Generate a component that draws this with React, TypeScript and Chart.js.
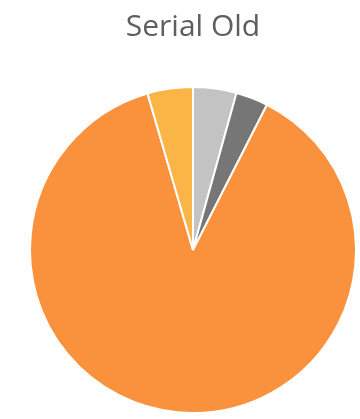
import React, { useEffect, useRef } from "react";
import { Chart, registerables } from "chart.js";

Chart.register(...registerables);

const titleText = "Serial Old";
const categories = ["Light gray", "Dark gray", "Orange", "Yellow"];
const shares = [4.3, 3.2, 88.0, 4.5];
const colors = ["#C3C3C3", "#767676", "#FA913C", "#FBB546"];

export default function App() {
  const ref = useRef<HTMLCanvasElement | null>(null);
  useEffect(() => {
    document.body.style.margin = "0";
    const ctx = ref.current!;
    const chart = new Chart(ctx, {
      type: "pie",
      data: {
        labels: categories,
        datasets: [
          {
            data: shares,
            backgroundColor: colors,
            borderColor: "#FFFFFF",
            borderWidth: 2,
          },
        ],
      },
      options: {
        responsive: false,
        animation: false,
        layout: { padding: { left: 26, right: 0, top: 0, bottom: 5 } },
        plugins: {
          legend: { display: false },
          tooltip: { enabled: false },
          title: {
            display: true,
            text: titleText,
            color: "#5E5E5E",
            font: { family: "Open Sans", size: 30, weight: "normal", lineHeight: 1.2 },
            padding: { top: 9, bottom: 41 },
          },
        },
      },
    });
    return () => chart.destroy();
  }, []);
  return (
    <div style={{ width: 360, height: 419, background: "#FFFFFF" }}>
      <canvas ref={ref} width={360} height={419} />
    </div>
  );
}
